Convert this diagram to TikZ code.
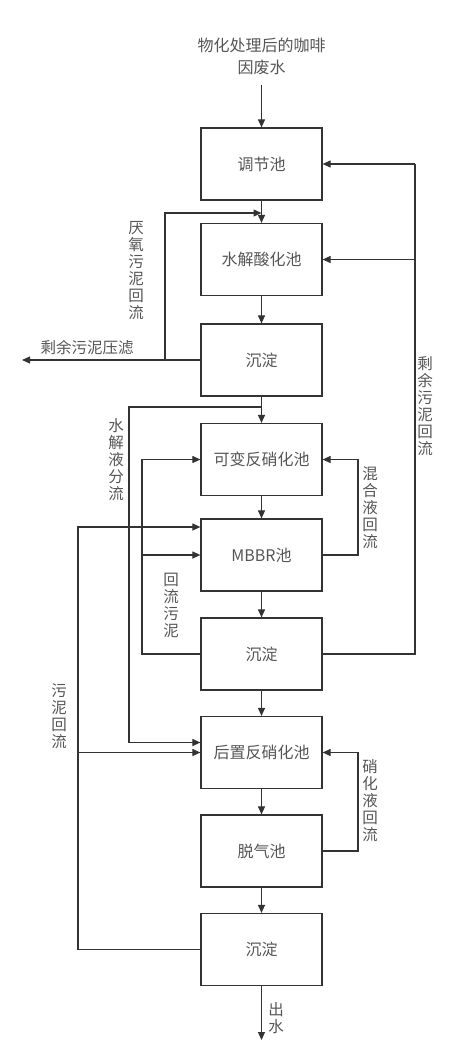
\documentclass[tikz,border=0pt]{standalone}
\usepackage{fontspec}
\newfontfamily\cjk{Noto Sans CJK SC}
\usetikzlibrary{arrows.meta}
\definecolor{linec}{HTML}{333333}
\definecolor{textc}{HTML}{555555}
\tikzset{
  pool/.style={draw=linec, line width=1.2pt, minimum width=121pt, minimum height=72pt, inner sep=0pt,
    font={\cjk\fontsize{16}{17}\selectfont}, text=textc},
  lbl/.style={font={\cjk\fontsize{15.5}{17}\selectfont}, text=textc, align=center, inner sep=0pt},
  flow/.style={draw=linec, line width=1.1pt},
  arr/.style={flow, -{Triangle[length=8pt,width=7pt]}}
}
\begin{document}
\begin{tikzpicture}[x=1pt,y=-1pt]
\useasboundingbox (0,0) rectangle (454,1062);
% boxes
\node[pool] (b1) at (261.5,164) {调节池};
\node[pool] (b2) at (261.5,259.5) {水解酸化池};
\node[pool] (b3) at (261.5,360) {沉淀};
\node[pool] (b4) at (261.5,459.5) {可变反硝化池};
\node[pool] (b5) at (261.5,555) {MBBR池};
\node[pool] (b6) at (261.5,654) {沉淀};
\node[pool] (b7) at (261.5,752.5) {后置反硝化池};
\node[pool] (b8) at (261.5,851) {脱气池};
\node[pool] (b9) at (261.5,949.5) {沉淀};
% top input
\node[lbl, font={\cjk\fontsize{16}{22}\selectfont}] (inp) at (261.5,56) {物化处理后的咖啡\\因废水};
\coordinate (in) at (261.5,85);
\draw[arr] (in) -- (b1.north);
% main chain
\draw[arr] (b1.south) -- (b2.north);
\draw[arr] (b2.south) -- (b3.north);
\draw[arr] (b3.south) -- (b4.north);
\draw[arr] (b4.south) -- (b5.north);
\draw[arr] (b5.south) -- (b6.north);
\draw[arr] (b6.south) -- (b7.north);
\draw[arr] (b7.south) -- (b8.north);
\draw[arr] (b8.south) -- (b9.north);
\coordinate (out) at (261.5,1040);
\draw[arr] (b9.south) -- (out);
\node[lbl] (lout) at (276,1018.5) {出\\水};
% right sludge return
\coordinate (rt) at (415,164);
\draw[flow] (b6.east) -| (rt);
\draw[arr] (rt) -- (b1.east);
\draw[arr] (b2.east -| rt) -- (b2.east);
\node[lbl] (lr) at (425,406) {剩\\余\\污\\泥\\回\\流};
% anaerobic sludge return
\coordinate (an) at (165,213);
\draw[arr] (b3.west) -| (an) -- (b1.south |- an);
\node[lbl] (lan) at (136,271) {厌\\氧\\污\\泥\\回\\流};
% surplus sludge press
\coordinate (press) at (22,360);
\draw[arr] (b3.west) -- (press);
\node[lbl] (lpress) at (87,348) {剩余污泥压滤};
% hydrolysate split
\coordinate (sp) at (261.5,407);
\coordinate (spl) at (129,407);
\draw[arr] (sp) -- (spl) |- ([yshift=10pt]b7.west);
\node[lbl] (lsp) at (116,460) {水\\解\\液\\分\\流};
% return sludge from b6
\coordinate (rs) at (142,654);
\draw[arr] (b6.west) -- (rs) |- (b4.west);
\draw[arr] (rs |- b5.west) -- (b5.west);
\node[lbl] (lrs) at (171,605) {回\\流\\污\\泥};
% sludge return from b9
\coordinate (sr) at (78,949.5);
\draw[arr] (b9.west) -- (sr) |- ([yshift=28pt]b5.west);
\draw[arr] (sr |- b7.west) -- (b7.west);
\node[lbl] (lsr) at (59,716) {污\\泥\\回\\流};
% mixed liquor return
\coordinate (mx) at (358,555);
\draw[arr] (b5.east) -- (mx) |- (b4.east);
\node[lbl] (lmx) at (370,508) {混\\合\\液\\回\\流};
% nitrified liquor return
\coordinate (nt) at (358,851);
\draw[arr] (b8.east) -- (nt) |- (b7.east);
\node[lbl] (lnt) at (370,801) {硝\\化\\液\\回\\流};
\end{tikzpicture}
\end{document}
